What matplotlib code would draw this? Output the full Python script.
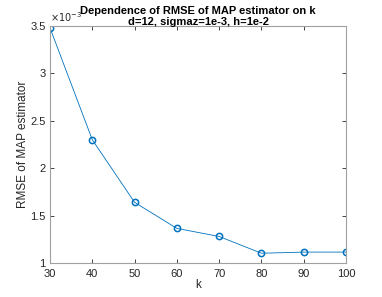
import matplotlib
matplotlib.use("Agg")
import matplotlib.pyplot as plt

k = [30, 40, 50, 60, 70, 80, 90, 100]
rmse = [3.48, 2.30, 1.64, 1.365, 1.28, 1.103, 1.115, 1.115]  # x 1e-3
xticks = [30, 40, 50, 60, 70, 80, 90, 100]
yticks = [1, 1.5, 2, 2.5, 3, 3.5]
ytick_labels = ["1", "1.5", "2", "2.5", "3", "3.5"]

plt.rcParams['font.family'] = ['Liberation Sans', 'DejaVu Sans']
fig = plt.figure(figsize=(3.82, 2.97), dpi=100)
ax = fig.add_axes([50/382, 34/297, 296/382, 237/297])

ax.plot(k, rmse, color='#0072BD', linewidth=0.6, marker='o', markersize=4.5,
        markerfacecolor='none', markeredgewidth=1.1)
ax.set_xlim(30, 100)
ax.set_ylim(1, 3.5)
ax.set_xticks(xticks)
ax.set_yticks(yticks)
ax.set_yticklabels(ytick_labels)

axcol = '#a0a0a0'
for s in ax.spines.values():
    s.set_color(axcol)
    s.set_linewidth(0.8)
ax.tick_params(direction='in', length=3, width=0.6, colors='#262626',
               labelsize=8, top=True, right=True)
ax.tick_params(axis='x', pad=4)
ax.tick_params(axis='y', pad=3)

ax.set_xlabel('k', fontsize=8.5, color='#262626', labelpad=0)
ax.set_ylabel('RMSE of MAP estimator', fontsize=8.5, color='#262626', labelpad=1)
ax.set_title('Dependence of RMSE of MAP estimator on k\nd=12, sigmaz=1e-3, h=1e-2',
             fontsize=8, fontweight='bold', color='black', pad=1, linespacing=1.05)
ax.text(0.0, 1.008, r'$\times10^{-3}$', transform=ax.transAxes, fontsize=7,
        color='#262626', ha='left', va='bottom')

fig.savefig('out.png', dpi=100)
